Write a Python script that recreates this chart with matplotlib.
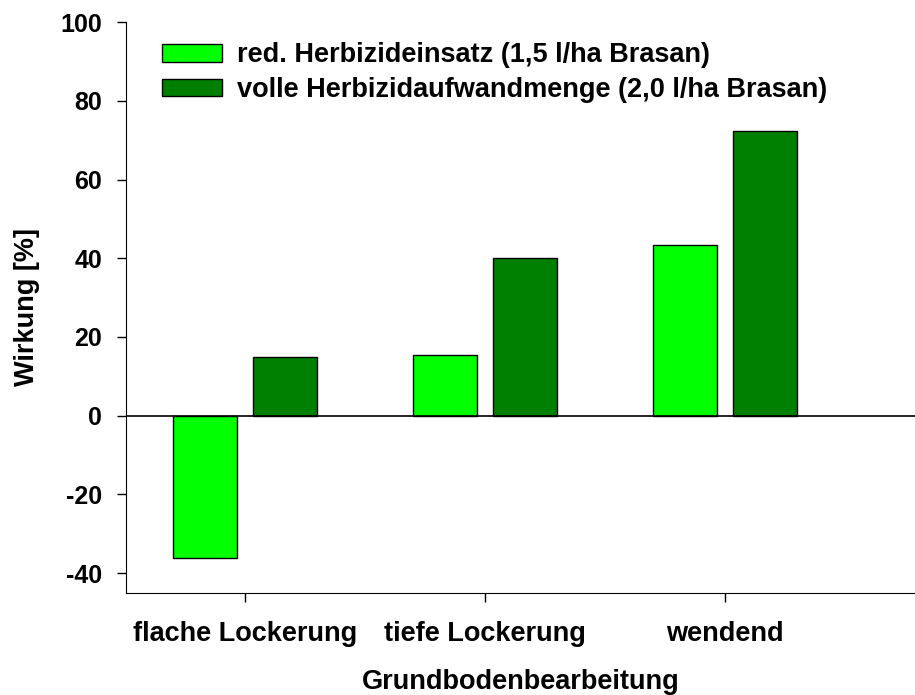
import numpy as np
import matplotlib.pyplot as plt

plt.rcParams['font.family'] = ['Liberation Sans', 'DejaVu Sans']
plt.rcParams['font.weight'] = 'bold'
plt.rcParams['axes.unicode_minus'] = False

kategorien = ["flache Lockerung", "tiefe Lockerung", "wendend"]
reduziert = [-36.3, 15.4, 43.4]
voll = [14.9, 40.1, 72.4]
namen = ["red. Herbizideinsatz (1,5 l/ha Brasan)",
         "volle Herbizidaufwandmenge (2,0 l/ha Brasan)"]

x = np.arange(len(kategorien))
breite = 0.266
versatz = 0.1665

fig = plt.figure(figsize=(9.15, 6.95), dpi=100)
ax = fig.add_axes([0.1374, 0.1472, 0.8626, 0.8208])

ax.bar(x - versatz, reduziert, breite, color="#00ff00", edgecolor="black", linewidth=1, label=namen[0])
ax.bar(x + versatz, voll, breite, color="#008000", edgecolor="black", linewidth=1, label=namen[1])
ax.axhline(0, color="black", linewidth=1.2)

ax.set_xlim(-0.496, 2.79)
ax.set_ylim(-45, 100)
ax.set_yticks(np.arange(-40, 101, 20))
ax.set_xticks(x)
ax.set_xticklabels(kategorien)

ax.spines["top"].set_visible(False)
ax.spines["right"].set_visible(False)
ax.tick_params(axis="both", direction="out", length=6.5, width=1)
ax.tick_params(axis="y", pad=10.5, labelsize=18)
ax.tick_params(axis="x", pad=14, labelsize=19.5)

ax.set_xlabel("Grundbodenbearbeitung", fontsize=19.5, fontweight="bold", labelpad=15.5)
ax.set_ylabel("Wirkung [%]", fontsize=19.5, fontweight="bold", labelpad=15)

ax.legend(loc="upper left", bbox_to_anchor=(0.0456, 0.9645), frameon=False, fontsize=19.5,
          borderpad=0, borderaxespad=0,
          handlelength=2.22, handleheight=0.63, handletextpad=0.55, labelspacing=0.32)

fig.savefig("out.png", dpi=100)
